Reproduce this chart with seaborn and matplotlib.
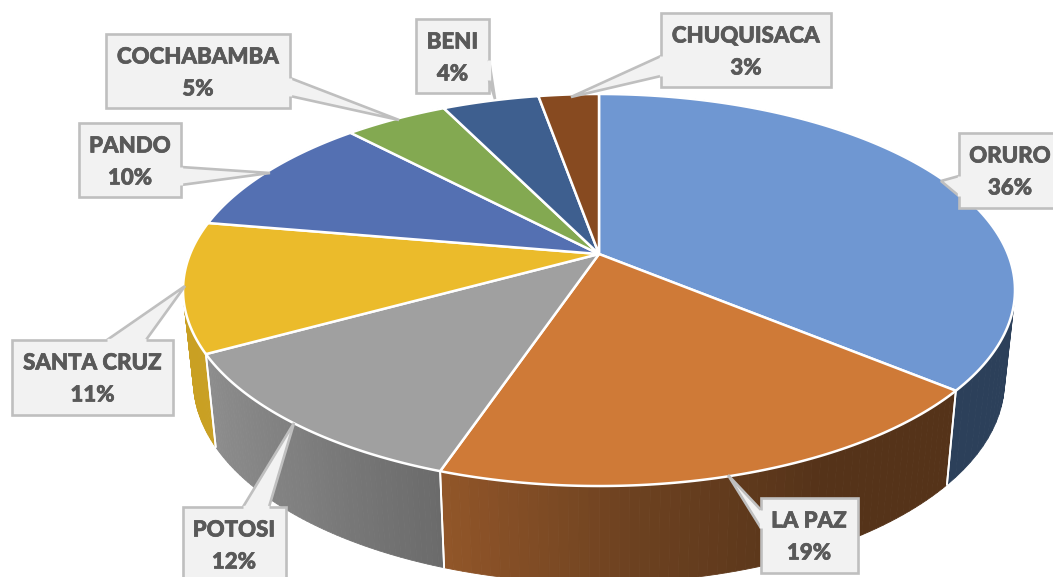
import numpy as np
import matplotlib
matplotlib.use("Agg")
import matplotlib.pyplot as plt
from matplotlib.colors import LinearSegmentedColormap
from matplotlib.patches import Polygon
import matplotlib.patheffects as pe
import seaborn as sns

# ---- data
departments = ["ORURO", "LA PAZ", "POTOSI", "SANTA CRUZ", "PANDO", "COCHABAMBA", "BENI", "CHUQUISACA"]
shares = [36.0, 19.2, 11.8, 10.7, 10.21, 4.8, 4.49, 2.8]
pct_labels = ["36%", "19%", "12%", "11%", "10%", "5%", "4%", "3%"]
top_colors = ["#6f97d2", "#cf7a37", "#a0a0a0", "#ebbb2b", "#5470b2", "#83a951", "#3e5f8f", "#874a20"]
wall_colors = [
    ["#2c405a", "#2c405a"],
    ["#925629", "#6c4120", "#553319", "#553319"],
    ["#8e8e8e", "#808080", "#6b6b6b"],
    ["#c9a023", "#c9a023"],
    ["#324470", "#324470"],
    ["#4f6631", "#4f6631"],
    ["#253956", "#253956"],
    ["#512c13", "#512c13"],
]
# callout: box (left, top, right, bottom), pointer base a, base b, tip
callouts = {
    "ORURO": ((959, 133, 1060, 208), (959, 176), (959, 196), (941, 181)),
    "LA PAZ": ((761, 498, 858, 573), (761, 510), (761, 528), (728, 475)),
    "POTOSI": ((183, 507, 286, 590), (243, 507), (269, 507), (294, 423)),
    "SANTA CRUZ": ((12, 340, 173, 415), (107, 340), (146, 340), (185, 286)),
    "PANDO": ((79, 123, 181, 197), (181, 167), (181, 185), (270, 173)),
    "COCHABAMBA": ((106, 34, 290, 108), (290, 78), (290, 96), (399, 120)),
    "BENI": ((416, 19, 489, 93), (489, 60), (489, 80), (495, 99)),
    "CHUQUISACA": ((661, 13, 831, 87), (661, 56), (661, 76), (571, 97)),
}
text_centers = {"ORURO": 1010, "LA PAZ": 809, "POTOSI": 234}

# ---- projection of the tilted disc on the page
APEX_X, APEX_Y = 599.0, 254.0
A, B, K = 408.9, 189.4, 0.1837


def top_point(x, y):
    d = 1 + K * y
    return APEX_X + A * x / d, APEX_Y - B * y / d


def bottom_point(x, y):
    d = 1 + K * y
    return APEX_X + 0.975 * A * x / d, APEX_Y - (1.03 * B * y / d - 90)


sns.set_theme(style="white")
fig, ax = plt.subplots(figsize=(10.53, 5.77), dpi=100)
fig.subplots_adjust(0, 0, 1, 1)
palette = sns.color_palette(top_colors)

wedges, _ = ax.pie(shares, startangle=90, counterclock=False, colors=palette)
angles = [(w.theta1, w.theta2) for w in wedges]
for w in wedges:
    w.remove()

ax.set_aspect("auto")
ax.set_xlim(0, 1053)
ax.set_ylim(577, 0)
ax.axis("off")

# ---- side walls, back to front
segments = []
for (t1, t2), stops in zip(angles, wall_colors):
    cmap = LinearSegmentedColormap.from_list("w", stops)
    th = np.radians(np.linspace(t1, t2, 60))
    for j in range(len(th) - 1):
        xa, ya = np.cos(th[j]), np.sin(th[j])
        xb, yb = np.cos(th[j + 1]), np.sin(th[j + 1])
        # shade runs left to right across the slice (theta rises towards the right)
        f = (j + 0.5) / (len(th) - 1)
        quad = [top_point(xa, ya), top_point(xb, yb), bottom_point(xb, yb), bottom_point(xa, ya)]
        segments.append((-(ya + yb), quad, cmap(f)))
segments.sort(key=lambda s: s[0])
for _, quad, col in segments:
    ax.add_patch(Polygon(quad, closed=True, facecolor=col, edgecolor=col, lw=0.6, zorder=2))

for t1, t2 in angles:
    for t in (t1, t2):
        c, s = np.cos(np.radians(t)), np.sin(np.radians(t))
        if s < 0:
            p, q = top_point(c, s), bottom_point(c, s)
            ax.plot([p[0], q[0]], [p[1], q[1]], color="white", lw=1.3, zorder=3)

# ---- top faces
for (t1, t2), col in zip(angles, palette):
    th = np.radians(np.linspace(t1, t2, 120))
    pts = [(APEX_X, APEX_Y)] + [top_point(np.cos(a), np.sin(a)) for a in th]
    ax.add_patch(Polygon(pts, closed=True, facecolor=col, edgecolor="white", lw=1.8,
                         joinstyle="round", zorder=4))

# ---- callouts
BORDER = "#bfbfbf"
FILL = "#f2f2f2"
for name, pct in zip(departments, pct_labels):
    (l, t, r, b), pa, pb, tip = callouts[name]
    ax.add_patch(Polygon([(l, t), (r, t), (r, b), (l, b)], closed=True, facecolor=FILL,
                         edgecolor=BORDER, lw=1.9, zorder=5))
    ax.add_patch(Polygon([pa, tip, pb], closed=False, facecolor=FILL,
                         edgecolor=BORDER, lw=1.9, zorder=5, joinstyle="bevel"))
    # open the box border at the pointer mouth
    ax.plot([pa[0], pb[0]], [pa[1], pb[1]], color=FILL, lw=2.4, zorder=6,
            solid_capstyle="butt")
    cx = text_centers.get(name, (l + r) / 2)
    for txt, dy in ((name, 23), (pct, 55)):
        ax.text(cx, t + dy, txt, ha="center", va="center", fontsize=16, fontweight=900,
                family="Lato", color="#595959", zorder=7,
                path_effects=[pe.withStroke(linewidth=0.5, foreground="#595959")])

fig.savefig("out.png", dpi=100, facecolor="white")
